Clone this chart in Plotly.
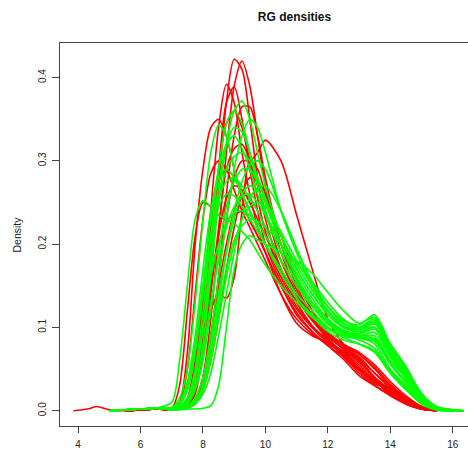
import plotly.graph_objects as go

# Common x grid of the density estimates
X = [3.85, 4.3, 4.6, 5.0, 5.5, 6.0, 6.5,
     7.0, 7.25, 7.5, 7.75, 8.0, 8.25, 8.5, 8.75, 9.0, 9.25, 9.5, 9.75, 10.0,
     10.5, 11.0, 11.5, 12.0, 12.5, 13.0, 13.5, 14.0, 14.5, 15.0, 15.5, 16.35]

RED_LEFT = [None, None, None, None, 0, 0.001, 0.002]
RED_LEFT_BUMP = [0, 0.002, 0.005, 0.001, 0, 0.001, 0.003]
GREEN_LEFT = [None, None, None, 0, 0.001, 0.002, 0.003]

# Red channel densities (values at X[7:])
R1 = [0.002,0.003,0.005,0.02,0.07,0.16,0.27,0.37,0.422,0.41,0.35,0.28,0.23, 0.17,0.13,0.1,0.082,0.072,0.058,0.04,0.025,0.012,0.003,0,None]
R2 = [0.002,0.003,0.004,0.01,0.04,0.11,0.21,0.31,0.39,0.42,0.39,0.33,0.27, 0.19,0.145,0.112,0.09,0.075,0.065,0.045,0.03,0.015,0.004,0,None]
R3 = [0.002,0.004,0.01,0.05,0.13,0.24,0.34,0.392,0.37,0.31,0.26,0.22,0.19, 0.15,0.118,0.095,0.078,0.065,0.045,0.03,0.018,0.008,0.002,0,None]
R4 = [0.002,0.003,0.006,0.03,0.09,0.19,0.29,0.37,0.389,0.35,0.29,0.24,0.2, 0.155,0.122,0.1,0.086,0.07,0.062,0.04,0.024,0.012,0.003,0,None]
R5 = [0.002,0.01,0.07,0.2,0.29,0.34,0.35,0.33,0.29,0.255,0.228,0.21,0.19, 0.14,0.105,0.09,0.082,0.066,0.05,0.034,0.028,0.015,0.004,0,None]
R6 = [0.001,0.002,0.004,0.012,0.04,0.09,0.16,0.23,0.28,0.30,0.30,0.31,0.325, 0.30,0.235,0.17,0.11,0.08,0.06,0.04,0.022,0.008,0.002,0,None]
R7 = [0.001,0.002,0.004,0.01,0.03,0.08,0.16,0.26,0.33,0.365,0.365,0.33,0.28, 0.2,0.15,0.115,0.092,0.078,0.068,0.05,0.03,0.014,0.004,0,None]
R8 = [0.002,0.008,0.05,0.14,0.23,0.285,0.30,0.29,0.265,0.24,0.22,0.2,0.18, 0.14,0.11,0.092,0.08,0.07,0.055,0.036,0.02,0.01,0.003,0,None]
R9 = [0.002,0.004,0.015,0.06,0.14,0.22,0.275,0.29,0.28,0.26,0.24,0.22,0.2, 0.16,0.125,0.1,0.085,0.065,0.048,0.032,0.026,0.012,0.002,0,None]
R10 = [0.001,0.003,0.008,0.03,0.08,0.15,0.21,0.255,0.27,0.265,0.25,0.23,0.21, 0.17,0.135,0.108,0.088,0.076,0.068,0.052,0.032,0.016,0.005,0,None]
R11 = [0.001,0.002,0.004,0.012,0.04,0.09,0.15,0.2,0.24,0.26,0.255,0.24,0.22, 0.18,0.14,0.11,0.09,0.074,0.06,0.038,0.022,0.011,0.003,0,None]
R12 = [0.003,0.03,0.12,0.21,0.25,0.245,0.235,0.23,0.235,0.24,0.23,0.21,0.19, 0.15,0.115,0.095,0.078,0.062,0.042,0.03,0.02,0.009,0.002,0,None]
R13 = [0.001,0.002,0.006,0.03,0.08,0.12,0.14,0.135,0.16,0.24,0.3,0.29,0.26, 0.2,0.155,0.12,0.094,0.08,0.07,0.055,0.035,0.018,0.005,0,None]
R14 = [0.001,0.003,0.007,0.025,0.07,0.14,0.22,0.29,0.315,0.32,0.3,0.27,0.24, 0.18,0.14,0.11,0.086,0.068,0.05,0.035,0.023,0.01,0.002,0,None]
R15 = [0.001,0.002,0.003,0.008,0.025,0.06,0.11,0.17,0.22,0.26,0.28,0.275,0.26, 0.21,0.16,0.12,0.092,0.074,0.063,0.045,0.027,0.013,0.003,0,None]
R16 = [0.001,0.003,0.01,0.04,0.11,0.2,0.29,0.345,0.36,0.34,0.3,0.255,0.215, 0.165,0.13,0.102,0.084,0.07,0.052,0.036,0.02,0.009,0.002,0,None]

# Green channel densities (values at X[7:])
G1 = [0.01,0.06,0.15,0.23,0.252,0.245,0.235,0.23,0.225,0.215,0.205,0.19,0.175, 0.15,0.13,0.112,0.098,0.088,0.08,0.07,0.045,0.025,0.008,0.001,0]
G2 = [0.004,0.015,0.05,0.13,0.23,0.31,0.343,0.33,0.29,0.26,0.24,0.22,0.2, 0.165,0.135,0.115,0.1,0.09,0.088,0.08,0.05,0.03,0.01,0.002,0]
G3 = [0.002,0.004,0.01,0.03,0.08,0.16,0.25,0.32,0.36,0.372,0.35,0.31,0.27, 0.21,0.17,0.14,0.118,0.105,0.1,0.106,0.072,0.042,0.016,0.003,0]
G4 = [0.002,0.005,0.015,0.05,0.12,0.21,0.29,0.345,0.36,0.345,0.31,0.27,0.24, 0.19,0.155,0.13,0.11,0.096,0.09,0.09,0.06,0.04,0.014,0.002,0]
G5 = [0.001,0.003,0.006,0.015,0.04,0.09,0.16,0.23,0.29,0.33,0.35,0.34,0.31, 0.24,0.19,0.15,0.12,0.1,0.098,0.1,0.07,0.045,0.018,0.003,0]
G6 = [0.002,0.004,0.012,0.04,0.1,0.18,0.25,0.29,0.305,0.31,0.3,0.28,0.255, 0.2,0.16,0.13,0.108,0.093,0.087,0.083,0.056,0.033,0.011,0.002,0]
G7 = [0.001,0.001,0.002,0.002,0.003,0.006,0.03,0.1,0.17,0.2,0.21,0.205,0.2, 0.19,0.18,0.165,0.142,0.12,0.105,0.112,0.078,0.052,0.02,0.004,0]
G8 = [0.002,0.003,0.008,0.025,0.06,0.12,0.19,0.245,0.275,0.29,0.29,0.275,0.255, 0.21,0.17,0.14,0.115,0.1,0.095,0.1,0.068,0.042,0.015,0.003,0]
G9 = [0.003,0.008,0.025,0.07,0.14,0.21,0.255,0.275,0.28,0.27,0.255,0.24,0.22, 0.18,0.15,0.125,0.105,0.094,0.09,0.087,0.058,0.035,0.012,0.002,0]
G10 = [0.001,0.002,0.005,0.015,0.04,0.08,0.14,0.19,0.23,0.26,0.27,0.265,0.25, 0.21,0.175,0.145,0.12,0.102,0.098,0.108,0.075,0.048,0.017,0.003,0]
G11 = [0.003,0.01,0.03,0.08,0.15,0.21,0.245,0.26,0.258,0.245,0.23,0.215,0.2, 0.17,0.14,0.12,0.1,0.09,0.085,0.075,0.048,0.028,0.009,0.001,0]
G12 = [0.001,0.002,0.004,0.01,0.025,0.06,0.11,0.16,0.2,0.23,0.245,0.25,0.245, 0.215,0.18,0.15,0.125,0.108,0.103,0.115,0.08,0.05,0.019,0.004,0]
G13 = [0.002,0.005,0.015,0.045,0.1,0.16,0.2,0.225,0.237,0.24,0.235,0.225,0.21, 0.18,0.15,0.125,0.105,0.093,0.09,0.094,0.064,0.038,0.013,0.002,0]
G14 = [0.003,0.01,0.035,0.09,0.17,0.24,0.28,0.29,0.28,0.26,0.24,0.22,0.2, 0.165,0.135,0.113,0.095,0.085,0.08,0.072,0.046,0.026,0.008,0.001,0]
G15 = [0.002,0.005,0.012,0.04,0.1,0.19,0.27,0.32,0.34,0.335,0.31,0.28,0.25, 0.2,0.16,0.13,0.108,0.095,0.092,0.098,0.066,0.04,0.014,0.002,0]
G16 = [0.001,0.002,0.004,0.01,0.03,0.07,0.12,0.17,0.205,0.222,0.23,0.228,0.22, 0.2,0.178,0.155,0.13,0.11,0.1,0.105,0.08,0.053,0.021,0.005,0]
G17 = [0.003,0.008,0.025,0.07,0.15,0.23,0.29,0.32,0.33,0.315,0.29,0.26,0.235, 0.19,0.155,0.126,0.104,0.092,0.088,0.085,0.056,0.034,0.011,0.002,0]
G18 = [0.001,0.002,0.003,0.008,0.02,0.045,0.09,0.14,0.19,0.23,0.255,0.268,0.27, 0.24,0.195,0.155,0.125,0.105,0.1,0.11,0.078,0.05,0.02,0.004,0]
G19 = [0.002,0.004,0.01,0.03,0.07,0.13,0.18,0.22,0.245,0.258,0.26,0.25,0.235, 0.2,0.165,0.135,0.11,0.097,0.093,0.1,0.07,0.044,0.016,0.003,0]
G20 = [0.001,0.002,0.004,0.012,0.03,0.07,0.13,0.19,0.24,0.275,0.295,0.3,0.29, 0.24,0.19,0.15,0.12,0.1,0.097,0.104,0.072,0.046,0.017,0.003,0]

RED_SERIES = [R1, R2, R3, R4, R5, R6, R7, R8, R9, R10, R11, R12, R13, R14, R15, R16]
GREEN_SERIES = [G1, G2, G3, G4, G5, G6, G7, G8, G9, G10, G11, G12, G13, G14, G15, G16, G17, G18, G19, G20]

TITLE = "RG densities"
Y_LABEL = "Density"
X_TICKS = [4, 6, 8, 10, 12, 14, 16]
Y_TICKS = [0.0, 0.1, 0.2, 0.3, 0.4]

fig = go.Figure()

def add_curve(vals, left, color):
    fig.add_trace(go.Scatter(
        x=X, y=left + vals, mode="lines",
        line=dict(color=color, width=1.6, shape="spline", smoothing=0.8),
        hoverinfo="skip", showlegend=False))

for i, s in enumerate(RED_SERIES):
    add_curve(s, RED_LEFT_BUMP if i == 11 else RED_LEFT, "#ff0000")
for s in GREEN_SERIES:
    add_curve(s, GREEN_LEFT, "#00ff00")

axis_color = "#444444"
font_family = "Liberation Sans, Arial, sans-serif"

fig.update_layout(
    width=468, height=450,
    margin=dict(l=60, r=0, t=43, b=24),
    paper_bgcolor="white", plot_bgcolor="white",
    font=dict(family=font_family, size=10, color="#222222"),
    title=dict(text="<b>" + TITLE + "</b>", x=(269 / 468), xanchor="center",
               xref="paper", y=1 - 17 / 450, yanchor="middle", yref="container",
               font=dict(size=12, color="#111111", family=font_family)),
    xaxis=dict(range=[3.42, 16.49], tickvals=X_TICKS, ticktext=[str(v) for v in X_TICKS],
               showline=True, mirror=True, linecolor=axis_color, linewidth=1,
               ticks="outside", ticklen=6, tickcolor=axis_color, tickwidth=1,
               showgrid=False, zeroline=False, automargin=False,
               ticklabelstandoff=3),
    yaxis=dict(range=[-0.0184, 0.4416], tickvals=Y_TICKS, tickformat=".1f",
               showline=True, mirror=False, linecolor=axis_color, linewidth=1,
               ticks="outside", ticklen=7, tickcolor=axis_color, tickwidth=1,
               tickangle=-90, showgrid=False, zeroline=False, automargin=False,
               ticklabelstandoff=2),
    annotations=[dict(text=Y_LABEL, textangle=-90, xref="paper", yref="paper",
                      x=(16 - 60) / 408, y=0.5, xanchor="center", yanchor="middle",
                      showarrow=False, font=dict(size=10.5, color="#222222"))],
)

fig.write_html("out.html", config={"displayModeBar": False},
               post_script="document.body.style.margin='0';document.body.style.overflow='hidden';")
